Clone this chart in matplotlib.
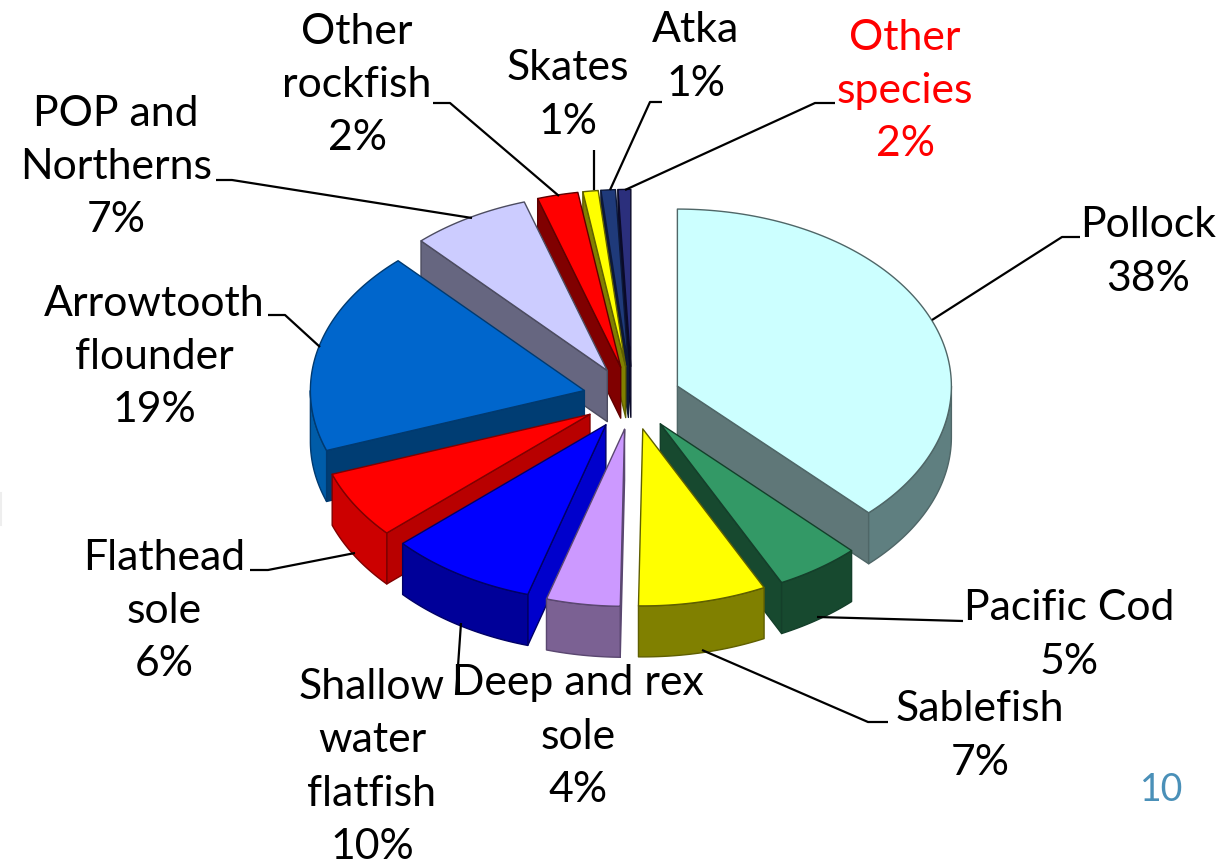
import numpy as np
import matplotlib
matplotlib.use('Agg')
import matplotlib.pyplot as plt
from matplotlib.patches import Polygon

plt.rcParams['font.family'] = ['Lato', 'DejaVu Sans']

# slice shares, clockwise from 12 o'clock
species = ['Pollock', 'Pacific Cod', 'Sablefish', 'Deep and rex', 'Shallow', 'Flathead',
           'Arrowtooth', 'POP', 'Other rockfish', 'Skates', 'Atka', 'Other species']
shares = [37.7, 5.0, 7.55, 4.35, 8.7, 6.2, 18.6, 7.0, 2.4, 0.9, 0.85, 0.75]
top_col = ['#ccffff', '#339966', '#ffff00', '#cc99ff', '#0000ff', '#ff0000',
           '#0066cc', '#ccccff', '#ff0000', '#ffff00', '#1f3a7a', '#2b2f7c']
rim_col = ['#5f7f80', '#17492f', '#808000', '#7b6193', '#000099', '#cc0000',
           '#005ca8', '#666680', '#800000', '#808000', '#10204a', '#14163f']
side_col = ['#5f7778', '#17492f', '#808000', '#8a5fd0', '#0000cc', '#b80000',
            '#003d73', '#666680', '#800000', '#808000', '#0c1838', '#0a0a28']
edge_col = ['#4f6667', '#143f2a', '#5f5f00', '#5a4770', '#000066', '#800000',
            '#003a70', '#4c4c60', '#600000', '#606000', '#0c1838', '#0a0a28']

labels = ['Pollock\n38%', 'Pacific Cod\n5%', 'Sablefish\n7%', 'Deep and rex\nsole\n4%',
          'Shallow\nwater\nflatfish\n10%', 'Flathead\nsole\n6%', 'Arrowtooth\nflounder\n19%',
          'POP and\nNortherns\n7%', 'Other\nrockfish\n2%', 'Skates\n1%', 'Atka\n1%',
          'Other\nspecies\n2%']
label_pos = [(1148, 252), (1069, 635), (980, 736), (578, 737), (372, 767), (164, 611),
             (154, 357), (116, 167), (357, 85), (568, 95), (696, 57), (905, 91)]
label_col = ['black'] * 11 + ['#ff0000']

leaders = [[(1080, 237), (1062, 237), (932, 320)],
           [(963, 621), (817, 617)],
           [(888, 722), (868, 722), (702, 650)],
           [(456, 695), (461, 623)],
           [(250, 570), (268, 570), (355, 553)],
           [(268, 315), (285, 315), (320, 347)],
           [(216, 180), (232, 180), (472, 218)],
           [(433, 103), (450, 103), (559, 196)],
           [(594, 150), (594, 190)],
           [(662, 102), (650, 102), (610, 190)],
           [(835, 103), (815, 103), (625, 190)]]

cx, cy = 632, 398
rx, ry = 274, 177
squash = ry / rx
explode = 49
depth = 51


def rim(tip, a):
    # a is in radians, point on the top edge of a slice
    return tip[0] + rx * np.cos(a), tip[1] - ry * np.sin(a)


fig = plt.figure(figsize=(12.29, 8.68), dpi=100)
ax = fig.add_axes([0, 0, 1, 1])
ax.set_xlim(0, 1229)
ax.set_ylim(868, 0)
ax.axis('off')

ends = 90 - 3.6 * np.cumsum(shares)
starts = np.r_[90, ends[:-1]]
mids = (starts + ends) / 2

# back slices first, front slices last
for i in np.argsort(-np.sin(np.radians(mids))):
    a1, a2 = np.radians(starts[i]), np.radians(ends[i])
    am = np.radians(mids[i])
    tip = (cx + explode * np.cos(am), cy - explode * squash * np.sin(am))
    kw = dict(ec=edge_col[i], lw=1.0, joinstyle='round')

    # cut faces, only when they look toward the viewer
    for a, visible in ((a1, np.cos(a1) < 0), (a2, np.cos(a2) > 0)):
        if visible:
            x, y = rim(tip, a)
            pts = [tip, (x, y), (x, y + depth), (tip[0], tip[1] + depth)]
            ax.add_patch(Polygon(pts, fc=side_col[i], **kw))

    # outer wall, front half of the ellipse only
    lo, hi = max(a2, -np.pi), min(a1, 0)
    if lo < hi:
        t = np.linspace(hi, lo, 60)
        x, y = rim(tip, t)
        pts = np.r_[np.c_[x, y], np.c_[x, y + depth][::-1]]
        ax.add_patch(Polygon(pts, fc=rim_col[i], **kw))

    t = np.linspace(a1, a2, 120)
    x, y = rim(tip, t)
    pts = np.r_[[tip], np.c_[x, y]]
    ax.add_patch(Polygon(pts, fc=top_col[i], **kw))

for line in leaders:
    xs, ys = zip(*line)
    ax.plot(xs, ys, color='black', lw=1.6, solid_capstyle='butt')

for txt, pos, col in zip(labels, label_pos, label_col):
    ax.text(pos[0], pos[1], txt, color=col, fontsize=30.8, ha='center', va='center',
            linespacing=1.5)

ax.text(1162, 790, '10', color='#4a90b8', fontsize=27, ha='center', va='center')

# faint scrap at the slide edge
ax.plot([0.5, 0.5], [493, 525], color='#eeeeee', lw=1.5)

fig.savefig('out.png', dpi=100)
